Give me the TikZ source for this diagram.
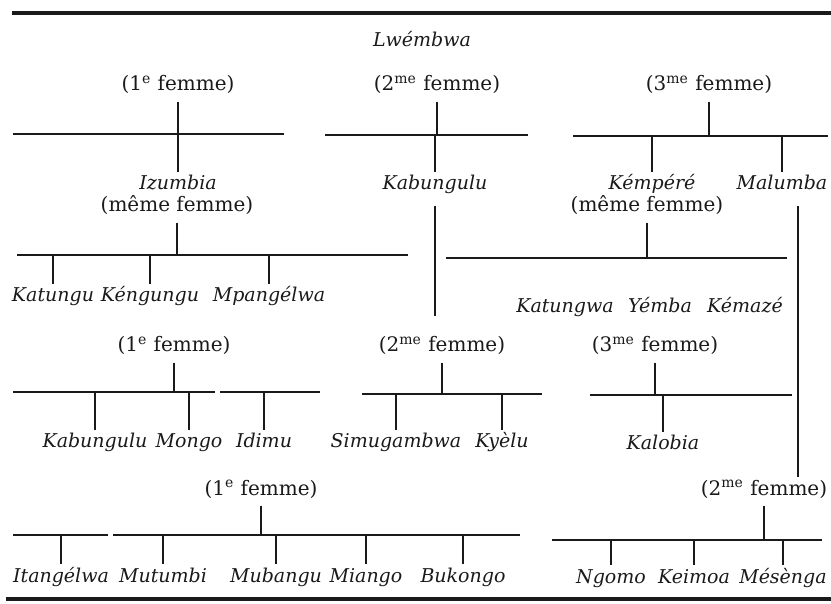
\documentclass[tikz,border=0pt]{standalone}
\usepackage{fontspec}
\setmainfont{DejaVu Serif}
\usetikzlibrary{calc}
\definecolor{InkGray}{HTML}{1A1A1A}

\begin{document}
\begin{tikzpicture}[x=0.5pt, y=-0.5pt, InkGray,
    person/.style={font=\fontsize{9.5}{12}\selectfont\itshape, anchor=base, inner sep=0pt},
    wife/.style={font=\fontsize{10}{12}\selectfont, anchor=base, inner sep=0pt},
    rule/.style={line width=2.4pt},
    bar/.style={line width=0.8pt},
    tickup/.style={line width=1pt, shorten <=3.5pt},
    tickdown/.style={line width=1pt, shorten >=9pt},
    longline/.style={line width=0.6pt}]
  \useasboundingbox (0,0) rectangle (831,604);
  % page rules
  \coordinate (topl) at (12,13);
  \coordinate (topr) at (831,13);
  \coordinate (botl) at (6,599);
  \coordinate (botr) at (831,599);
  \draw[rule] (topl) -- (topr);
  \draw[rule] (botl) -- (botr);

  \node[person] (lwe) at (422,47) {Lwémbwa};

  % first generation
  \node[wife] (w11) at (178,91) {(1\textsuperscript{e} femme)};
  \node[wife] (w12) at (437,91) {(2\textsuperscript{me} femme)};
  \node[wife] (w13) at (709,91) {(3\textsuperscript{me} femme)};
  \coordinate (b11l) at (13,134);  \coordinate (b11r) at (284,134);
  \coordinate (b12l) at (325,135); \coordinate (b12r) at (528,135);
  \coordinate (b13l) at (573,136); \coordinate (b13r) at (828,136);
  \draw[bar] (b11l) -- (b11r);
  \draw[bar] (b12l) -- (b12r);
  \draw[bar] (b13l) -- (b13r);
  \foreach \w/\b in {w11/b11l, w12/b12l, w13/b13l}
    \draw[tickup] (\w.south) -- (\w.south |- \b);

  \node[person] (izu) at (178,190) {Izumbia};
  \node[person] (kab) at (435,190) {Kabungulu};
  \node[person] (kem) at (652,190) {Kémpéré};
  \node[person] (mal) at (782,190) {Malumba};
  \foreach \c/\b in {izu/b11l, kab/b12l, kem/b13l, mal/b13l}
    \draw[tickdown] (\c.base |- \b) -- (\c.base);
  \node[wife] (m1) at (177,212) {(même femme)};
  \node[wife] (m2) at (647,212) {(même femme)};

  % second generation
  \coordinate (b21l) at (17,255);  \coordinate (b21r) at (408,255);
  \coordinate (b22l) at (446,258); \coordinate (b22r) at (787,258);
  \draw[bar] (b21l) -- (b21r);
  \draw[bar] (b22l) -- (b22r);
  \draw[tickup] (m1.south) -- (m1.south |- b21l);
  \draw[tickup] (m2.south) -- (m2.south |- b22l);

  \node[person] (katu) at (53,302) {Katungu};
  \node[person] (keng) at (150,302) {Kéngungu};
  \node[person] (mpan) at (269,302) {Mpangélwa};
  \foreach \c in {katu, keng, mpan}
    \draw[tickdown] (\c.base |- b21l) -- (\c.base);
  \node[person] (katw) at (565,313) {Katungwa};
  \node[person] (yemb) at (660,313) {Yémba};
  \node[person] (kema) at (745,313) {Kémazé};

  % third generation
  \node[wife] (w31) at (174,352) {(1\textsuperscript{e} femme)};
  \node[wife] (w32) at (442,352) {(2\textsuperscript{me} femme)};
  \node[wife] (w33) at (655,352) {(3\textsuperscript{me} femme)};
  \coordinate (b31l) at (13,392);  \coordinate (b31r) at (215,392);
  \coordinate (b3xl) at (220,392); \coordinate (b3xr) at (320,392);
  \coordinate (b32l) at (362,394); \coordinate (b32r) at (542,394);
  \coordinate (b33l) at (590,395); \coordinate (b33r) at (792,395);
  \draw[bar] (b31l) -- (b31r);
  \draw[bar] (b3xl) -- (b3xr);
  \draw[bar] (b32l) -- (b32r);
  \draw[bar] (b33l) -- (b33r);
  \foreach \w/\b in {w31/b31l, w32/b32l, w33/b33l}
    \draw[tickup] (\w.south) -- (\w.south |- \b);

  \node[person] (kab2) at (95,448) {Kabungulu};
  \node[person] (mong) at (189,448) {Mongo};
  \node[person] (idim) at (264,448) {Idimu};
  \node[person] (simu) at (396,448) {Simugambwa};
  \node[person] (kyel) at (502,448) {Kyèlu};
  \node[person] (kalo) at (663,450) {Kalobia};
  \foreach \c/\b in {kab2/b31l, mong/b31l, idim/b3xl, simu/b32l, kyel/b32l, kalo/b33l}
    \draw[tickdown] (\c.base |- \b) -- (\c.base);

  % long descent lines
  \draw[longline, shorten <=8pt, shorten >=18pt] (kab.base) -- (kab.base |- w32.base);
  \coordinate (malx) at ([xshift=8pt]mal.base);
  \node[wife] (w42) at (764,495) {(2\textsuperscript{me} femme)};
  \draw[longline, shorten <=8pt, shorten >=9pt] (malx) -- (malx |- w42.base);

  % fourth generation
  \node[wife] (w41) at (261,495) {(1\textsuperscript{e} femme)};
  \coordinate (b4xl) at (13,535);  \coordinate (b4xr) at (108,535);
  \coordinate (b41l) at (113,535); \coordinate (b41r) at (520,535);
  \coordinate (b42l) at (552,540); \coordinate (b42r) at (822,540);
  \draw[bar] (b4xl) -- (b4xr);
  \draw[bar] (b41l) -- (b41r);
  \draw[bar] (b42l) -- (b42r);
  \foreach \w/\b in {w41/b41l, w42/b42l}
    \draw[tickup] (\w.south) -- (\w.south |- \b);

  \node[person] (itan) at (61,582) {Itangélwa};
  \node[person] (mutu) at (163,582) {Mutumbi};
  \node[person] (muba) at (276,582) {Mubangu};
  \node[person] (mian) at (366,582) {Miango};
  \node[person] (buko) at (463,582) {Bukongo};
  \node[person] (ngom) at (611,583) {Ngomo};
  \node[person] (keim) at (694,583) {Keimoa};
  \node[person] (mese) at (783,583) {Mésènga};
  \foreach \c/\b in {itan/b4xl, mutu/b41l, muba/b41l, mian/b41l, buko/b41l,
                     ngom/b42l, keim/b42l, mese/b42l}
    \draw[tickdown] (\c.base |- \b) -- (\c.base);
\end{tikzpicture}
\end{document}
